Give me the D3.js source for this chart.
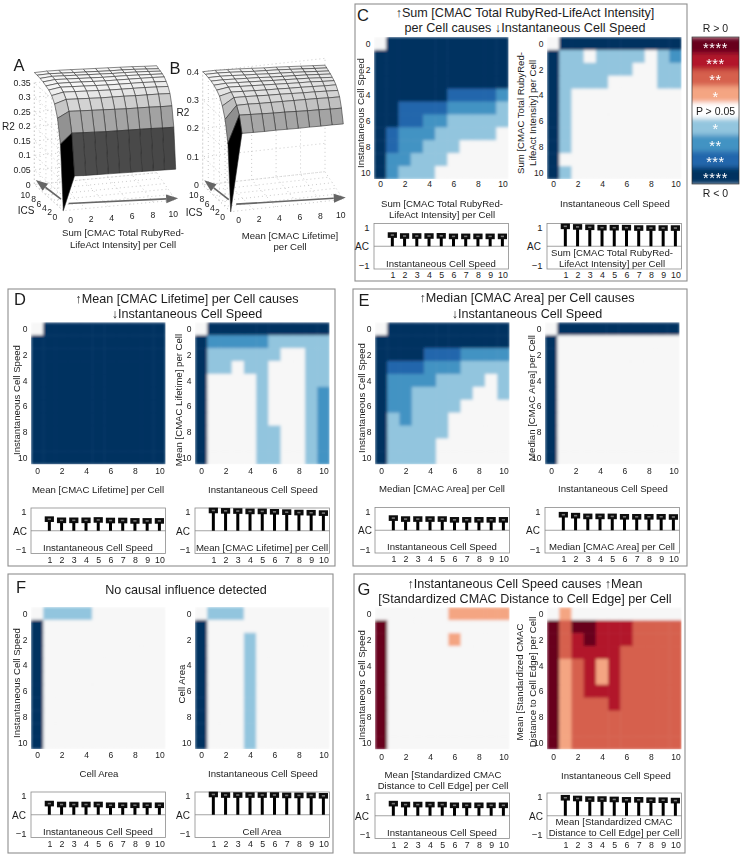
<!DOCTYPE html>
<html><head><meta charset="utf-8">
<script src="https://cdn.jsdelivr.net/npm/d3@7/dist/d3.min.js"></script>
<style>html,body{margin:0;padding:0;background:#fff}svg{display:block;font-family:"Liberation Sans",Arial,sans-serif;filter:blur(.3px)}</style>
</head><body><svg id="c" width="743" height="856"></svg>
<script>
// ---------- data: significance levels (-4..4), row = y 0..10, column = x 0..10
const cLeft=[[0,-4,-4,-4,-4,-4,-4,-4,-4,-4,-4],[-4,-4,-4,-4,-4,-4,-4,-4,-4,-4,-4],[-4,-4,-4,-4,-4,-4,-4,-4,-4,-4,-4],[-4,-4,-4,-4,-4,-4,-4,-4,-4,-4,-4],[-4,-4,-4,-4,-4,-4,-3,-3,-3,-3,-2],[-4,-4,-3,-3,-3,-3,-2,-2,-2,-2,-1],[-4,-4,-3,-3,-2,-2,-1,-1,-1,-1,-1],[-4,-3,-2,-2,-2,-1,-1,-1,-1,-1,0],[-4,-3,-2,-2,-1,-1,-1,0,0,0,0],[-4,-2,-2,-1,-1,-1,0,0,0,0,0],[-4,-2,-1,-1,-1,0,0,0,0,0,0]];
const cRight=[[0,-4,-4,-4,-4,-4,-4,-4,-4,-4,-4],[-4,-1,-1,0,-1,-1,-1,-1,0,-1,-2],[-4,-1,-1,-1,-1,-1,-1,0,0,-1,-1],[-4,-1,-1,-1,-1,0,0,0,0,-1,-1],[-4,-1,0,0,0,0,0,0,0,0,0],[-4,-1,0,0,0,0,0,0,0,0,0],[-4,-1,0,0,0,0,0,0,0,0,0],[-4,-1,0,0,0,0,0,0,0,0,0],[-4,-1,0,0,0,0,0,0,0,0,0],[-4,0,0,0,0,0,0,0,0,0,0],[-4,-1,0,0,0,0,0,0,0,0,0]];
const dLeft=[[0,-4,-4,-4,-4,-4,-4,-4,-4,-4,-4],[-4,-4,-4,-4,-4,-4,-4,-4,-4,-4,-4],[-4,-4,-4,-4,-4,-4,-4,-4,-4,-4,-4],[-4,-4,-4,-4,-4,-4,-4,-4,-4,-4,-4],[-4,-4,-4,-4,-4,-4,-4,-4,-4,-4,-4],[-4,-4,-4,-4,-4,-4,-4,-4,-4,-4,-4],[-4,-4,-4,-4,-4,-4,-4,-4,-4,-4,-4],[-4,-4,-4,-4,-4,-4,-4,-4,-4,-4,-4],[-4,-4,-4,-4,-4,-4,-4,-4,-4,-4,-4],[-4,-4,-4,-4,-4,-4,-4,-4,-4,-4,-4],[-4,-4,-4,-4,-4,-4,-4,-4,-4,-4,-4]];
const dRight=[[0,-4,-4,-4,-4,-4,-4,-4,-4,-4,-4],[-4,-2,-2,-2,-2,-2,-1,-1,-1,-1,-1],[-4,-1,-1,-1,-1,-1,-1,0,0,-1,-1],[-4,-1,-1,0,-1,-1,0,0,0,-1,-1],[-4,0,0,0,0,-1,0,0,0,-1,-1],[-4,0,0,0,0,-1,0,0,0,-1,-2],[-4,0,0,0,0,-1,0,0,0,-1,-2],[-4,0,0,0,0,-1,0,0,0,-1,-2],[-4,0,0,0,0,-1,-1,0,0,-1,-2],[-4,0,0,0,0,-1,-1,0,0,-1,-2],[-4,0,0,0,0,-1,-1,0,0,-1,-2]];
const eLeft=[[0,-4,-4,-4,-4,-4,-4,-4,-4,-4,-4],[-4,-4,-4,-4,-4,-4,-4,-4,-4,-4,-4],[-4,-4,-4,-4,-3,-3,-3,-2,-2,-2,-2],[-4,-3,-3,-3,-2,-2,-2,-1,-1,-1,-1],[-4,-2,-2,-2,-2,-1,-1,-1,-1,0,-1],[-4,-2,-2,-1,-1,-1,-1,-1,0,0,-1],[-4,-2,-2,-1,-1,-1,-1,0,0,0,0],[-4,-1,-2,-1,-1,-1,0,0,0,0,0],[-4,-1,-1,-1,-1,-1,0,0,0,0,0],[-4,-1,-1,-1,-1,0,0,0,0,0,0],[-4,-1,-1,-1,-1,0,0,0,0,0,0]];
const eRight=[[0,-4,-4,-4,-4,-4,-4,-4,-4,-4,-4],[-4,0,0,0,0,0,0,0,0,0,0],[-4,0,0,0,0,0,0,0,0,0,0],[-4,0,0,0,0,0,0,0,0,0,0],[-4,0,0,0,0,0,0,0,0,0,0],[-4,0,0,0,0,0,0,0,0,0,0],[-4,0,0,0,0,0,0,0,0,0,0],[-4,0,0,0,0,0,0,0,0,0,0],[-4,0,0,0,0,0,0,0,0,0,0],[-4,0,0,0,0,0,0,0,0,0,0],[-4,0,0,0,0,0,0,0,0,0,0]];
const fLeft=[[0,-1,-1,-1,-1,0,0,0,0,0,0],[-4,0,0,0,0,0,0,0,0,0,0],[-4,0,0,0,0,0,0,0,0,0,0],[-4,0,0,0,0,0,0,0,0,0,0],[-4,0,0,0,0,0,0,0,0,0,0],[-4,0,0,0,0,0,0,0,0,0,0],[-4,0,0,0,0,0,0,0,0,0,0],[-4,0,0,0,0,0,0,0,0,0,0],[-4,0,0,0,0,0,0,0,0,0,0],[-4,0,0,0,0,0,0,0,0,0,0],[-4,0,0,0,0,0,0,0,0,0,0]];
const fRight=[[0,-1,-1,-1,0,0,0,0,0,0,0],[-4,0,0,0,0,0,0,0,0,0,0],[-4,0,0,0,-1,0,0,0,0,0,0],[-4,0,0,0,-1,0,0,0,0,0,0],[-4,0,0,0,-1,0,0,0,0,0,0],[-4,0,0,0,-1,0,0,0,0,0,0],[-4,0,0,0,-1,0,0,0,0,0,0],[-4,0,0,0,-1,0,0,0,0,0,0],[-4,0,0,0,-1,0,0,0,0,0,0],[-4,0,0,0,-1,0,0,0,0,0,0],[-4,0,0,0,-1,0,0,0,0,0,0]];
const gLeft=[[0,0,0,0,0,0,1,1,1,1,1],[4,0,0,0,0,0,0,0,0,0,0],[4,0,0,0,0,0,1,0,0,0,0],[4,0,0,0,0,0,0,0,0,0,0],[4,0,0,0,0,0,0,0,0,0,0],[4,0,0,0,0,0,0,0,0,0,0],[4,0,0,0,0,0,0,0,0,0,0],[4,0,0,0,0,0,0,0,0,0,0],[4,0,0,0,0,0,0,0,0,0,0],[4,0,0,0,0,0,0,0,0,0,0],[4,0,0,0,0,0,0,0,0,0,0]];
const gRight=[[0,1,0,0,0,0,0,0,0,0,0],[4,2,4,4,3,3,3,2,2,2,2],[4,2,3,4,3,3,3,2,2,2,2],[4,2,3,3,3,3,2,2,2,2,2],[4,1,2,3,1,3,2,2,2,2,2],[4,1,2,3,1,3,2,2,2,2,2],[4,1,2,3,3,3,2,2,2,2,2],[4,1,2,2,2,3,2,2,2,2,2],[4,1,2,2,2,2,2,2,2,2,2],[4,1,2,2,2,2,2,2,2,2,2],[4,1,2,2,2,2,2,2,2,2,2]];

const lags=[1,2,3,4,5,6,7,8,9,10];
const acCLeft=[.59,.54,.54,.54,.55,.52,.52,.52,.52,.52];
const acCRight=[1.05,1.02,1,.98,.98,.98,.96,.96,.96,.96];
const acDLeft=[.61,.55,.55,.55,.57,.54,.54,.52,.52,.52];
const acDRight=[1.07,1.05,1.04,1.02,1.02,1,.98,.96,.95,.93];
const acELeft=[.64,.59,.59,.59,.59,.55,.55,.55,.55,.55];
const acERight=[.82,.77,.73,.73,.73,.71,.71,.71,.71,.70];
const acFLeft=[.59,.54,.54,.54,.54,.50,.50,.50,.50,.50];
const acFRight=[1.07,1.04,1.04,1.04,1.04,1.04,1.02,1.02,1.02,1];
const acGLeft=[.64,.59,.59,.59,.59,.55,.55,.55,.55,.55];
const acGRight=[.95,.91,.88,.88,.86,.84,.84,.82,.82,.80];

const surfA=[[0,.116,.114,.113,.112,.111,.110,.109,.108,.107,.106],[.22,.254,.252,.25,.248,.247,.246,.245,.244,.242,.241],[.30,.32,.318,.316,.314,.312,.31,.309,.308,.306,.305],[.34,.352,.35,.348,.346,.345,.344,.342,.341,.34,.338],[.36,.368,.366,.364,.362,.36,.359,.358,.357,.355,.353],[.37,.376,.374,.372,.37,.368,.367,.366,.365,.363,.361],[.375,.38,.379,.377,.375,.373,.372,.371,.37,.369,.367],[.38,.384,.382,.38,.378,.376,.375,.374,.372,.37,.368],[.383,.386,.384,.382,.38,.378,.376,.375,.373,.371,.368],[.385,.386,.384,.382,.38,.378,.376,.375,.373,.37,.367],[.385,.386,.385,.383,.381,.379,.377,.375,.373,.37,.368]];
const surfB=[[0,.272,.271,.270,.27,.269,.268,.268,.267,.267,.266],[.232,.327,.325,.323,.321,.32,.318,.316,.315,.313,.312],[.307,.352,.352,.35,.349,.348,.347,.346,.345,.343,.342],[.345,.37,.369,.367,.365,.364,.362,.36,.359,.357,.355],[.37,.38,.378,.376,.374,.373,.371,.37,.368,.366,.365],[.382,.388,.386,.384,.382,.38,.378,.376,.375,.372,.37],[.39,.392,.39,.388,.386,.384,.382,.38,.378,.375,.372],[.395,.395,.393,.391,.389,.386,.384,.382,.38,.377,.374],[.398,.398,.396,.393,.391,.388,.386,.384,.381,.378,.375],[.40,.40,.398,.395,.392,.39,.388,.385,.382,.379,.376],[.40,.40,.398,.396,.393,.39,.388,.385,.382,.379,.376]];
const zTicksA=[0,.05,.1,.15,.2,.25,.3,.35];
const zTicksB=[0,.1,.2,.3,.4];
const gridTicks=[0,2,4,6,8,10];
const legendLevels=[4,3,2,1,0,-1,-2,-3,-4];

// ---------- styling
const levelDomain=[-4,-3,-2,-1,0,1,2,3,4];
const levelColors=["#053061","#2166ac","#4393c3","#92c5de","#f7f7f7","#f4a582","#d6604d","#b2182b","#67001f"];
const color=d3.scaleOrdinal(levelDomain,levelColors);
const ink="#1c1c1c", edge="#8c8c8c";
const svg=d3.select("#c");
const defs=svg.append("defs");
function blurFilter(id,sd,pad){
  const f=defs.append("filter").attr("id",id).attr("x",-pad+"%").attr("y",-pad+"%").attr("width",100+2*pad+"%").attr("height",100+2*pad+"%");
  f.append("feGaussianBlur").attr("stdDeviation",sd).attr("edgeMode","duplicate");
}
blurFilter("soft",1.7,10);
blurFilter("softLegend",2.6,20);
blurFilter("softer",.35,20);

function txt(g,x,y,s,size,opt={}){
  const t=g.append("text").attr("x",x).attr("y",y).attr("font-size",size).attr("fill",opt.fill||ink)
    .attr("text-anchor",opt.anchor||"middle").attr("dominant-baseline","central").text(s);
  if(opt.rot) t.attr("transform",`rotate(-90 ${x} ${y})`);
  if(opt.spacing) t.attr("letter-spacing",opt.spacing);
  return t;
}
let clipId=0;
const W=134.5,H=142,SH=45.5,labelSize=9.6;
function heat(g,data,x0,y0,tickY){
  const id="clip"+(clipId++);
  defs.append("clipPath").attr("id",id).append("rect").attr("x",x0).attr("y",y0).attr("width",W).attr("height",H);
  const bx=d3.scaleBand().domain(d3.range(11)).range([x0,x0+W]);
  const by=d3.scaleBand().domain(d3.range(11)).range([y0,y0+H]);
  const cg=g.append("g").attr("clip-path",`url(#${id})`);
  const bl=cg.append("g").attr("filter","url(#soft)");
  bl.selectAll("g").data(data).join("g").selectAll("rect").data((r,i)=>r.map((v,j)=>({v,i,j}))).join("rect")
    .attr("x",d=>bx(d.j)).attr("y",d=>by(d.i)).attr("width",bx.bandwidth()+.5).attr("height",by.bandwidth()+.5)
    .attr("fill",d=>color(d.v));
  const sx=d3.scaleLinear([-.5,10.5],[x0,x0+W]), sy=d3.scaleLinear([-.5,10.5],[y0,y0+H]);
  const ax=g.append("g").attr("transform",`translate(0,${tickY})`).call(d3.axisBottom(sx).tickValues(gridTicks).tickSize(0).tickPadding(0));
  const ay=g.append("g").attr("transform",`translate(${x0-3.5},0)`).call(d3.axisLeft(sy).tickValues(gridTicks).tickSize(0).tickPadding(0));
  [ax,ay].forEach(a=>{a.select(".domain").remove();a.selectAll("text").attr("font-size",8.5).attr("fill",ink).attr("font-family","inherit");});
  ax.selectAll("text").attr("dy",".32em").attr("y",0);
}
function stems(g,vals,x0,y0){
  const sx=d3.scaleLinear([-.5,10.5],[x0,x0+W]), sy=d3.scaleLinear([-1.2,1.2],[y0+SH,y0]);
  g.append("rect").attr("x",x0).attr("y",y0).attr("width",W).attr("height",SH).attr("fill","#fff").attr("stroke",edge).attr("stroke-width",.8);
  g.append("line").attr("x1",x0).attr("x2",x0+W).attr("y1",sy(0)).attr("y2",sy(0)).attr("stroke",edge).attr("stroke-width",.8);
  const ax=g.append("g").attr("transform",`translate(0,${y0+SH+6.5})`).call(d3.axisBottom(sx).tickValues(lags).tickSize(0).tickPadding(0));
  ax.select(".domain").remove();
  ax.selectAll("text").attr("font-size",8.8).attr("fill",ink).attr("y",0).attr("dy",".32em").attr("font-family","inherit");
  const ay=g.append("g").attr("transform",`translate(${x0-4.5},0)`).call(d3.axisLeft(sy).tickValues([1,-1]).tickFormat(d3.format("d")).tickSize(0).tickPadding(0));
  ay.select(".domain").remove();
  ay.selectAll("text").attr("font-size",9.5).attr("fill",ink).attr("font-family","inherit");
  const m=g.append("g").attr("filter","url(#softer)");
  const sel=m.selectAll("g").data(vals).join("g");
  sel.append("line").attr("x1",(d,i)=>sx(lags[i])).attr("x2",(d,i)=>sx(lags[i])).attr("y1",sy(0)).attr("y2",d=>sy(d)).attr("stroke","#000").attr("stroke-width",3);
  sel.append("rect").attr("x",(d,i)=>sx(lags[i])-4.6).attr("y",d=>sy(d)-2.8).attr("width",9.2).attr("height",5.6).attr("fill","#0a0a0a");
  sel.append("rect").attr("x",(d,i)=>sx(lags[i])-1.6).attr("y",d=>sy(d)-.8).attr("width",3.2).attr("height",1.6).attr("fill","#777");
}
function panel(p){
  const g=svg.append("g");
  g.append("rect").attr("x",p.box[0]).attr("y",p.box[1]).attr("width",p.box[2]-p.box[0]).attr("height",p.box[3]-p.box[1]).attr("fill","#fff").attr("stroke","#8f8f8f").attr("stroke-width",1.1);
  txt(g,p.letter[1],p.letter[2],p.letter[0],16.5);
  p.title.forEach(t=>txt(g,t[1],t[2],t[0],12.6));
  heat(g,p.hL,p.xL,p.top,p.tickY);
  heat(g,p.hR,p.xR,p.top,p.tickY);
  stems(g,p.aL,p.xL,p.sTop);
  stems(g,p.aR,p.xR,p.sTop);
  txt(g,p.acX[0],p.sTop+SH/2+.5,"AC",10);
  txt(g,p.acX[1],p.sTop+SH/2+.5,"AC",10);
  p.labels.forEach(l=>txt(g,l[1],l[2],l[0],labelSize,{rot:l[3]}));
}
const sumLabel="Sum [CMAC Total RubyRed-", sumLabel2="LifeAct Intensity] per Cell";
const panels=[
 {box:[355,4,687,281],letter:["C",363,15],title:[["↑Sum [CMAC Total RubyRed-LifeAct Intensity]",525,13],["per Cell causes ↓Instantaneous Cell Speed",525,28]],
  hL:cLeft,hR:cRight,aL:acCLeft,aR:acCRight,xL:374,xR:547,top:37,tickY:184.5,sTop:223.5,acX:[362,534],
  labels:[["Instantaneous Cell Speed",360,113,1],["Sum [CMAC Total RubyRed-",520,113,1],["LifeAct Intensity] per Cell",532,113,1],[sumLabel,442,203],[sumLabel2,442,214.5],["Instantaneous Cell Speed",615,203],["Instantaneous Cell Speed",441,263],["Sum [CMAC Total RubyRed-",612,252],["LifeAct Intensity] per Cell",612,263.5]]},
 {box:[8,289,335,566],letter:["D",20,299],title:[["↑Mean [CMAC Lifetime] per Cell causes",187,299],["↓Instantaneous Cell Speed",187,314]],
  hL:dLeft,hR:dRight,aL:acDLeft,aR:acDRight,xL:31,xR:195,top:322.3,tickY:471.7,sTop:508,acX:[20,183],
  labels:[["Instantaneous Cell Speed",16,400,1],["Mean [CMAC Lifetime] per Cell",178,400,1],["Mean [CMAC Lifetime] per Cell",98,489],["Instantaneous Cell Speed",263,489],["Instantaneous Cell Speed",98,547],["Mean [CMAC Lifetime] per Cell",262,547]]},
 {box:[353,289,687,566],letter:["E",364,300],title:[["↑Median [CMAC Area] per Cell causes",527,298],["↓Instantaneous Cell Speed",527,314]],
  hL:eLeft,hR:eRight,aL:acELeft,aR:acERight,xL:375,xR:545,top:322.3,tickY:471,sTop:507.5,acX:[365,533],
  labels:[["Instantaneous Cell Speed",361,398,1],["Median [CMAC Area] per Cell",531,398,1],["Median [CMAC Area] per Cell",442,488],["Instantaneous Cell Speed",613,488],["Instantaneous Cell Speed",442,546],["Median [CMAC Area] per Cell",612,546]]},
 {box:[8,574,333,853],letter:["F",21,587],title:[["No causal influence detected",186,590]],
  hL:fLeft,hR:fRight,aL:acFLeft,aR:acFRight,xL:31,xR:195,top:607,tickY:755.5,sTop:792,acX:[19,183],
  labels:[["Instantaneous Cell Speed",16,683,1],["Cell Area",181,684,1],["Cell Area",99,773],["Instantaneous Cell Speed",263,773],["Instantaneous Cell Speed",98,831],["Cell Area",262,831]]},
 {box:[354,574,685,853],letter:["G",364,589],title:[["↑Instantaneous Cell Speed causes ↑Mean",525,584],["[Standardized CMAC Distance to Cell Edge] per Cell",525,599]],
  hL:gLeft,hR:gRight,aL:acGLeft,aR:acGRight,xL:375,xR:547,top:607.3,tickY:757,sTop:793,acX:[362,536],
  labels:[["Instantaneous Cell Speed",361,685,1],["Mean [Standardized CMAC",519,682,1],["Distance to Cell Edge] per Cell",532,682,1],["Mean [Standardized CMAC",443,774],["Distance to Cell Edge] per Cell",443,785.5],["Instantaneous Cell Speed",616,775],["Instantaneous Cell Speed",442,832],["Mean [Standardized CMAC",614,821],["Distance to Cell Edge] per Cell",614,832.5]]}
];
panels.forEach(panel);

// ---------- legend
(function(){
  const g=svg.append("g"), x0=692,w=47,y0=37,h=147;
  const id="clipLegend";
  defs.append("clipPath").attr("id",id).append("rect").attr("x",x0).attr("y",y0).attr("width",w).attr("height",h);
  const b=d3.scaleBand().domain(legendLevels).range([y0,y0+h]);
  g.append("g").attr("clip-path",`url(#${id})`).append("g").attr("filter","url(#softLegend)")
   .selectAll("rect").data(legendLevels).join("rect").attr("x",x0-10).attr("width",w+20).attr("y",d=>b(d)).attr("height",b.bandwidth()+.5).attr("fill",d=>d==0?"#fff":color(d));
  g.append("rect").attr("x",x0).attr("y",y0).attr("width",w).attr("height",h).attr("fill","none").attr("stroke","#333").attr("stroke-width",.7);
  legendLevels.filter(d=>d!=0).forEach(d=>txt(g,x0+w/2,b(d)+b.bandwidth()/2+2.5,"*".repeat(Math.abs(d)),14.5,{fill:"#fff",spacing:.6}));
  txt(g,x0+w/2,b(0)+b.bandwidth()/2,"P > 0.05",10.5);
  txt(g,x0+w/2,28,"R > 0",10.5);
  txt(g,x0+w/2,193,"R < 0",10.5);
})();

// ---------- 3D surfaces
function surface(o){
  const g=svg.append("g");
  const px=(u,v)=>{ // bilinear map of the floor, from the four corners
    const a=d3.interpolate(o.p00,o.p10)(u/10), b=d3.interpolate(o.p01,o.p11)(u/10);
    return d3.interpolate(a,b)(v/10);
  };
  const proj=(u,v,z)=>{const p=px(u,v);return [p[0],p[1]-o.zs(z)];};
  const wall=(pts)=>g.append("path").attr("d",d3.line()(pts)).attr("fill","none").attr("stroke","#b5b5b5").attr("stroke-width",.7).attr("stroke-dasharray","1 3");
  const zMax=o.zTicks[o.zTicks.length-1];
  o.zTicks.forEach(z=>{wall([proj(0,0,z),proj(0,10,z),proj(10,10,z)]);});
  gridTicks.forEach(t=>{
    wall([proj(t,0,0),proj(t,10,0),proj(t,10,zMax)]);
    wall([proj(0,t,zMax),proj(0,t,0),proj(10,t,0)]);
  });
  const gray=d3.scaleLinear([0,o.zTop],["#000","#f6f6f6"]).clamp(true);
  for(let v=9;v>=0;v--){for(let u=9;u>=0;u--){
    const q=[proj(u,v,o.z[v][u]),proj(u+1,v,o.z[v][u+1]),proj(u+1,v+1,o.z[v+1][u+1]),proj(u,v+1,o.z[v+1][u])];
    g.append("path").attr("d",d3.line()(q)+"Z").attr("fill",gray(o.z[v][u])).attr("stroke","#262626").attr("stroke-width",.55).attr("stroke-linejoin","round");
  }}
  const arrow=(a,b)=>{
    const A=px(...a),B=px(...b),dx=B[0]-A[0],dy=B[1]-A[1],L=Math.hypot(dx,dy),ux=dx/L,uy=dy/L,hl=12,hw=4.5;
    const N=[B[0]-ux*hl,B[1]-uy*hl];
    g.append("path").attr("d",d3.line()([A,N])).attr("stroke","#666").attr("stroke-width",1.6);
    g.append("path").attr("d",d3.line()([B,[N[0]-uy*hw,N[1]+ux*hw],[N[0]+uy*hw,N[1]-ux*hw]])+"Z").attr("fill","#666");
  };
  arrow([1.05,2.33],[10.3,.5]);
  arrow([.82,4.1],[.47,11.5]);
  const xs=d3.scaleLinear([0,10],[0,1]);
  gridTicks.forEach(t=>{
    const a=d3.interpolate(o.xl[0],o.xl[1])(xs(t)), b=d3.interpolate(o.yl[0],o.yl[1])(xs(t));
    txt(g,a[0],a[1],t,8.6); txt(g,b[0]-(t==10?3:0),b[1],t,8.6);
  });
  o.zTicks.forEach(z=>{const p=proj(0,10,z);txt(g,o.zx,p[1],String(z),8.8,{anchor:"end"});});
  txt(g,o.r2[0],o.r2[1],"R2",10);
  txt(g,o.ics[0],o.ics[1],"ICS",10);
  txt(g,o.letter[1],o.letter[2],o.letter[0],16.5);
  o.xlabel.forEach(l=>txt(g,l[1],l[2],l[0],labelSize));
}
surface({z:surfA,zTicks:zTicksA,zTop:.37,zs:d3.scaleLinear([0,1],[0,290.7]),p00:[63.3,210.7],p10:[175.7,200],p01:[34.3,184.5],p11:[156.7,172.7],
  xl:[[70.7,220],[173.3,214]],yl:[[55,216.7],[28.3,195]],zx:30.7,r2:[8.5,126],ics:[26,210],letter:["A",19,65],
  xlabel:[["Sum [CMAC Total RubyRed-",123,232.5],["LifeAct Intensity] per Cell",123,244]]});
surface({z:surfB,zTicks:zTicksB,zTop:.40,zs:d3.scaleLinear([0,1],[0,283.3]),p00:[230.7,211.7],p10:[343.3,199.3],p01:[202.7,185],p11:[325,171.7],
  xl:[[238.7,220],[340.7,215]],yl:[[222.7,216.7],[196.7,195]],zx:199,r2:[183,112],ics:[194,212.7],letter:["B",175,68],
  xlabel:[["Mean [CMAC Lifetime]",290,235],["per Cell",290,246.5]]});
</script></body></html>
